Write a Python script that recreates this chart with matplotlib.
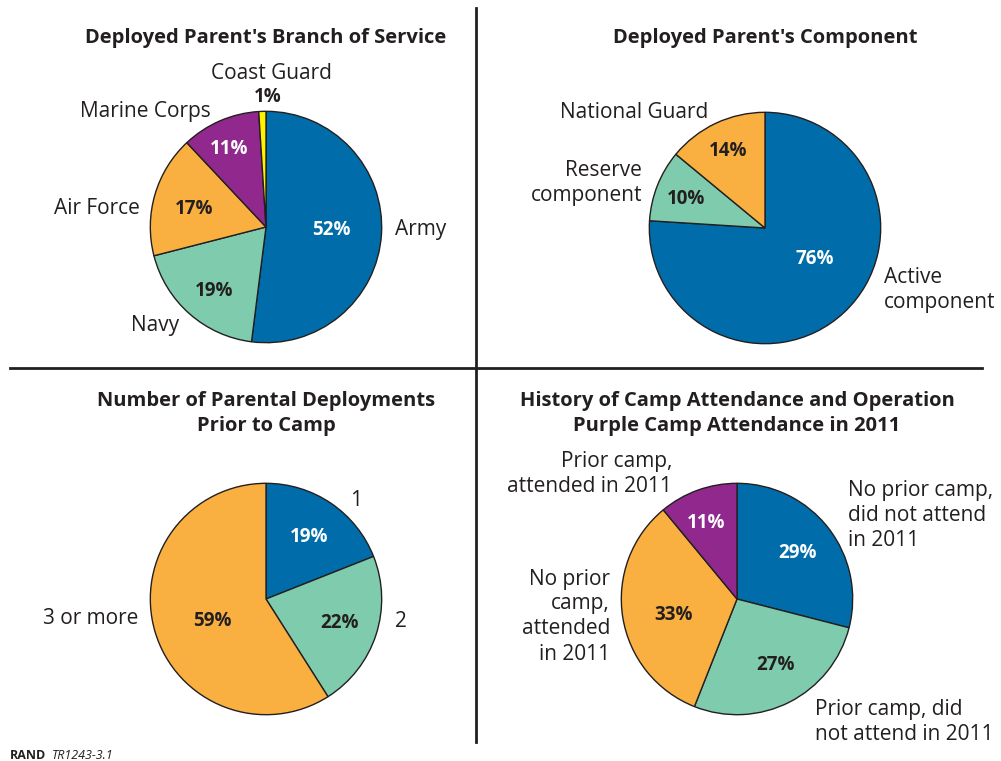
import matplotlib
matplotlib.use("Agg")
import matplotlib.pyplot as plt
from matplotlib.lines import Line2D

plt.rcParams['font.family'] = ['Open Sans', 'DejaVu Sans']

W, H = 1001, 761
DARK = '#231F20'
BLUE = '#006DAA'
GREEN = '#7ECBAD'
ORANGE = '#F9B041'
PURPLE = '#90288E'
YELLOW = '#FFF200'

# ---- data ----
branch_labels = ['Army', 'Navy', 'Air Force', 'Marine Corps', 'Coast Guard']
branch_values = [52, 19, 17, 11, 1]
branch_colors = [BLUE, GREEN, ORANGE, PURPLE, YELLOW]

comp_labels = ['Active\ncomponent', 'Reserve\ncomponent', 'National Guard']
comp_values = [76, 10, 14]
comp_colors = [BLUE, GREEN, ORANGE]

deploy_labels = ['1', '2', '3 or more']
deploy_values = [19, 22, 59]
deploy_colors = [BLUE, GREEN, ORANGE]

camp_labels = ['No prior camp,\ndid not attend\nin 2011', 'Prior camp, did\nnot attend in 2011',
               'No prior\ncamp,\nattended\nin 2011', 'Prior camp,\nattended in 2011']
camp_values = [29, 27, 33, 11]
camp_colors = [BLUE, GREEN, ORANGE, PURPLE]

titles = ["Deployed Parent's Branch of Service", "Deployed Parent's Component",
          "Number of Parental Deployments\nPrior to Camp",
          "History of Camp Attendance and Operation\nPurple Camp Attendance in 2011"]

# ---- layout (pixels) ----
fig = plt.figure(figsize=(W / 100, H / 100), dpi=100)
fig.patch.set_facecolor('white')

YOFF = 1.5  # small vertical text correction

def fx(x):
    return x / W

def fy(y):
    return 1 - y / H

def ftext(x, y, s, **kw):
    kw.setdefault('color', DARK)
    fig.text(fx(x), fy(y + YOFF), s, **kw)

def draw_pie(cx, cy, r, values, colors):
    ax = fig.add_axes([fx(cx - r), fy(cy + r), (2 * r) / W, (2 * r) / H])
    ax.pie(values, colors=colors, startangle=90, counterclock=False,
           wedgeprops=dict(edgecolor=DARK, linewidth=1.0), radius=1.0)
    ax.set_xlim(-1.02, 1.02)
    ax.set_ylim(-1.02, 1.02)
    ax.set_aspect('equal')
    ax.axis('off')
    return ax

R = 118
pies = [
    ((266, 227), branch_values, branch_colors),
    ((765, 228), comp_values, comp_colors),
    ((266, 599), deploy_values, deploy_colors),
    ((737, 599), camp_values, camp_colors),
]
for (c, v, col) in pies:
    draw_pie(c[0], c[1], R, v, col)

TS = 14.5
LS = 15
PS = 13.5

# titles
ftext(266, 36, titles[0], fontsize=TS, fontweight='bold', ha='center', va='center')
ftext(765, 36, titles[1], fontsize=TS, fontweight='bold', ha='center', va='center')
ftext(266, 412, titles[2], fontsize=TS, fontweight='bold', ha='center', va='center', linespacing=1.35)
ftext(737, 412, titles[3], fontsize=TS, fontweight='bold', ha='center', va='center', linespacing=1.35)

# percent labels
def pct(v):
    return f"{v}%"

pct_pos = [
    [(331, 228, 'white'), (214, 289, DARK), (194, 207, DARK), (229, 147, 'white'), (268, 95, DARK)],
    [(815, 257, 'white'), (686, 197, DARK), (728, 149, DARK)],
    [(309, 535, 'white'), (340, 621, DARK), (212, 619, DARK)],
    [(798, 552, 'white'), (776, 664, DARK), (674, 613, DARK), (706, 521, 'white')],
]
all_values = [branch_values, comp_values, deploy_values, camp_values]
for vals, poss in zip(all_values, pct_pos):
    for v, (x, y, c) in zip(vals, poss):
        ftext(x, y, pct(v), fontsize=PS, fontweight='bold', ha='center', va='center', color=c)

# category labels
lab_pos = [
    [(395, 228, 'left'), (155, 324, 'center'), (140, 207, 'right'), (211, 110, 'right'), (271, 72, 'center')],
    [(884, 288, 'left'), (642, 182, 'right'), (708, 111, 'right')],
    [(356, 499, 'center'), (401, 620, 'center'), (138, 617, 'right')],
    [(848, 514, 'left'), (815, 721, 'left'), (610, 615, 'right'), (672, 473, 'right')],
]
all_labels = [branch_labels, comp_labels, deploy_labels, camp_labels]
for labs, poss in zip(all_labels, lab_pos):
    for lab, (x, y, ha) in zip(labs, poss):
        ftext(x, y, lab, fontsize=LS, ha=ha, va='center', multialignment=ha, linespacing=1.25)

# dividers
fig.add_artist(Line2D([fx(476), fx(476)], [fy(8), fy(742)], color=DARK, linewidth=2.0))
fig.add_artist(Line2D([fx(10), fx(982)], [fy(368), fy(368)], color=DARK, linewidth=2.0))

# footer
ftext(10, 754, 'RAND', fontsize=9, fontweight='bold', ha='left', va='center')
ftext(52, 754, 'TR1243-3.1', fontsize=9, style='italic', ha='left', va='center')

fig.savefig('out.png', dpi=100, facecolor='white')
